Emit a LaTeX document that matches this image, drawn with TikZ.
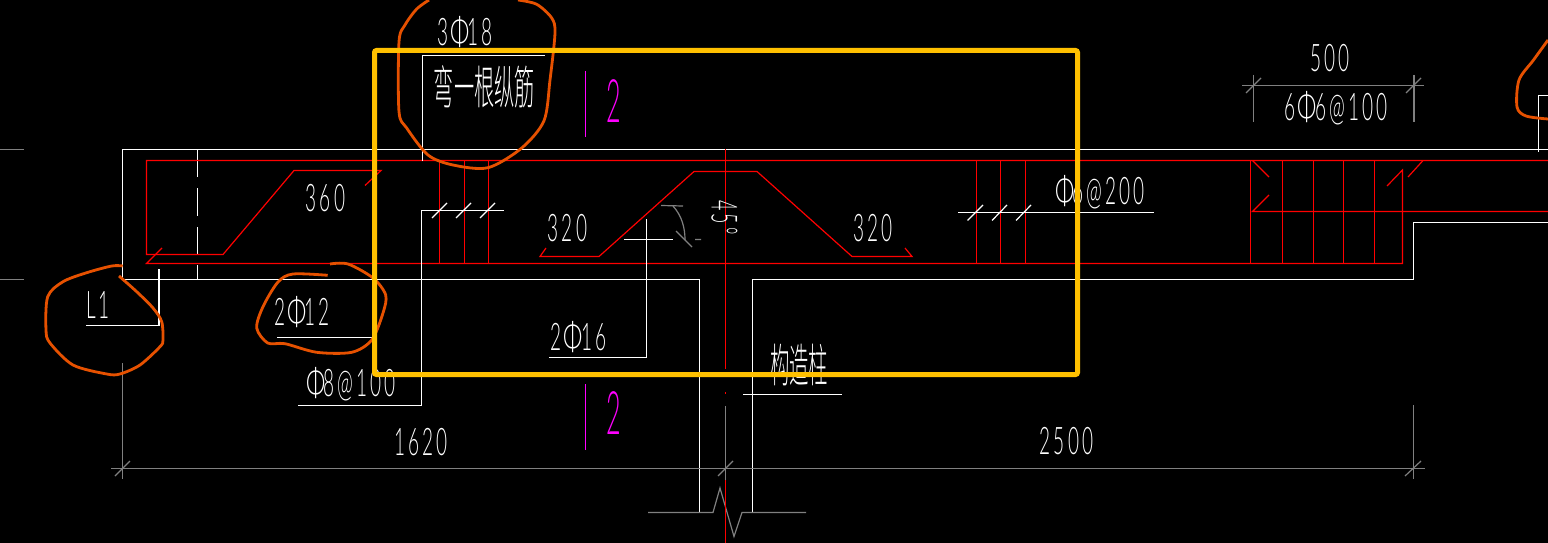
\documentclass[tikz,border=0pt]{standalone}
\usepackage{fontspec}
\usepackage{graphicx}
\setmainfont{Lato Hairline}
\newfontfamily\cadfont[LetterSpace=16]{Lato Light}
\newfontfamily\cadcjk{Noto Sans CJK SC Light}
\usetikzlibrary{calc}
\definecolor{cadgray}{HTML}{808080}
\definecolor{cadorange}{HTML}{E65100}
\definecolor{cadyellow}{HTML}{FFC000}
\definecolor{cadmagenta}{HTML}{FF00FF}
\newcommand{\cadphi}{\hspace{.1em}\scalebox{1.25}[1]{Φ}\hspace{-.08em}}
\tikzset{
 wline/.style={draw=white,line width=1.2pt},
 gline/.style={draw=cadgray,line width=1.2pt},
 rline/.style={draw=red,line width=1.2pt},
 mline/.style={draw=cadmagenta,line width=1.2pt},
 pen/.style={draw=cadorange,line width=2.8pt,line join=round},
 frameline/.style={draw=cadyellow,line width=5pt,rounded corners=2pt},
 lbl/.style={text=white,inner sep=0pt,font=\fontsize{38}{38}\cadfont,xscale=.5},
 cjk/.style={text=white,inner sep=0pt,font=\fontsize{46}{46}\cadcjk},
 seclbl/.style={text=cadmagenta,inner sep=0pt,font=\fontsize{60}{60}\cadfont,xscale=.42},
}
\begin{document}
\begin{tikzpicture}[x=1pt,y=-1pt]
\fill[black] (0,0) rectangle (1548,543);
\useasboundingbox (0,0) rectangle (1548,543);
% concrete outline
\draw[wline] (1548,149.5) -- (122.5,149.5) -- (122.5,279.5) -- (699.5,279.5) -- (699.5,512);
\draw[wline] (752.5,512) -- (752.5,279.5) -- (1413.5,279.5) -- (1413.5,222.5) -- (1548,222.5);
\draw[wline] (197.5,149) -- (197.5,177) (197.5,188) -- (197.5,216) (197.5,227) -- (197.5,254) (197.5,265) -- (197.5,279);
% gray ticks
\draw[gline] (0,149.5) -- (24,149.5) (0,279.5) -- (24,279.5);
\draw[gline] (122.5,363) -- (122.5,479) (1413.5,405) -- (1413.5,479);
\draw[gline] (111,468.5) -- (1425,468.5);
\draw[gline] (115,476) -- (130,461) (718,476) -- (733,461) (1405,476) -- (1421,461);
\draw[gline] (725.5,406) -- (725.5,480);
\draw[gline] (648,512.5) -- (713,512.5) -- (720,488) -- (734,536.5) -- (742,512.5) -- (806,512.5);
% dim 500
\draw[gline] (1242,85.5) -- (1424,85.5) (1253.5,75) -- (1253.5,122) (1414,75) -- (1414,122);
\draw[gline] (1246,93) -- (1261,78) (1406,93) -- (1421,78);
% red rebar
\draw[rline] (1548,160.5) -- (146.5,160.5) -- (146.5,254.5) -- (223,254.5) -- (294,170.5) -- (381,170.5) -- (365,185.5);
\draw[rline] (162,248) -- (146.5,263.5) -- (1402.5,263.5) -- (1402.5,170) -- (1387,186);
\draw[rline] (1423,160.5) -- (1408,177);
\draw[rline] (546,248) -- (540,256.5) -- (599,256.5) -- (694,171.5) -- (757,171.5) -- (852,256.5) -- (912,256.5) -- (905,248);
\draw[rline] (439.5,160) -- (439.5,263) (464.5,160) -- (464.5,263) (488.5,160) -- (488.5,263);
\draw[rline] (976.5,160) -- (976.5,263) (1000.5,160) -- (1000.5,263) (1025.5,160) -- (1025.5,263);
\draw[rline] (1250.5,160) -- (1250.5,263) (1282.5,160) -- (1282.5,263) (1313.5,160) -- (1313.5,263) (1343.5,160) -- (1343.5,263) (1374.5,160) -- (1374.5,263);
\draw[rline] (1269,177) -- (1252.5,160.5);
\draw[rline] (1269,195) -- (1252.5,211.5) -- (1548,211.5);
\draw[rline] (725.5,149) -- (725.5,369) (725.5,392) -- (725.5,394) (725.5,480) -- (725.5,543);
% leaders
\draw[wline] (159,269) -- (159,325.5) -- (86,325.5);
\draw[wline] (277,337.5) -- (372,337.5);
\draw[wline] (298,405.5) -- (421.5,405.5) -- (421.5,210.5) -- (504,210.5);
\draw[wline] (432,218) -- (447,203) (456,218) -- (471,203) (480,218) -- (495,203);
\draw[wline] (422.5,161) -- (422.5,55.5) -- (545,55.5);
\draw[wline] (549,357.5) -- (646.5,357.5) -- (646.5,219);
\draw[wline] (624,239.5) -- (673,239.5);
\draw[wline] (958,212.5) -- (1154,212.5);
\draw[wline] (967.5,220.5) -- (983,205) (992,220.5) -- (1007,205) (1016,220.5) -- (1031,205);
\draw[wline] (743,394.5) -- (842,394.5);
\draw[wline] (1538.5,151.5) -- (1538.5,95.5) -- (1548,95.5);
% angle
\draw[gline] (661,205.5) -- (683,206);
\draw[gline] (673,206) .. controls (682,216) and (685,228) .. (685,240);
\draw[gline] (676,231) -- (692,247) (695,239.5) -- (701,239.5);
% magenta
\draw[mline] (585.5,71) -- (585.5,137) (585.5,384) -- (585.5,450);
% labels
\node[lbl] (t3p18) at (465,32.5) {3\cadphi18};
\node[cjk,xscale=.44] (twan) at (484.5,86.5) {弯一根纵筋};
\node[seclbl] (tsec1) at (613.5,101) {2};
\node[seclbl] (tsec2) at (613.5,413.5) {2};
\node[lbl] (t360) at (325.5,198.5) {360};
\node[lbl] (t320a) at (567.5,228.5) {320};
\node[lbl] (t320b) at (873,228.5) {320};
\node[lbl,xscale=1.9,yscale=.47,rotate=-90] (t45) at (724.5,217.5) {45°};
\node[lbl] (tl1) at (98,305) {L1};
\node[lbl] (t2p12) at (302,312) {2\cadphi12};
\node[lbl] (tp8) at (350,384) {\cadphi8@100};
\node[lbl] (t2p16) at (578.5,337) {2\cadphi16};
\node[cjk,xscale=.42] (tgzz) at (799,365.5) {构造柱};
\node[lbl] (t1620) at (421,442) {1620};
\node[lbl] (t2500) at (1066.5,441.5) {2500};
\node[lbl] (t500) at (1330,58) {500};
\node[lbl] (t6p6) at (1336,108) {6\cadphi6@100};
\node[lbl] (tp6) at (1099,192) {\cadphi6@200};
% hand-drawn marks
\draw[pen] plot[smooth,tension=.5] coordinates {(122.7,266) (111.7,266) (86.7,272.7) (63,281.7) (47.7,296.7) (46,330) (50,343) (73,365) (106.7,374) (120,374) (140,365) (160,346.7) (163,340) (161.7,321.7) (153,308) (136.7,291.7) (119,276)};
\draw[pen] plot[smooth,tension=.5] coordinates {(327.7,275.3) (293,274) (278,282) (263,306.7) (256.7,328) (267.7,343) (285,343.7) (316.7,352.3) (351.7,352.3) (371.7,340) (383,313) (385.7,295) (373,278) (348,264) (330,264)};
\draw[pen] plot[smooth,tension=.5] coordinates {(429,0) (416.7,9) (405,25) (399,41.7) (399,111.7) (406.7,128) (428,155) (453,165) (488,167.7) (521.7,148) (544,120.7) (550,80) (555,33) (551.7,18) (536.7,4.3) (518,0)};
\draw[pen] plot[smooth,tension=.5] coordinates {(1548,40) (1533.5,60) (1519,80) (1517,107) (1526,116) (1548,119)};
% highlight frame
\draw[frameline] (374.5,50.5) rectangle (1077.5,374.5);
\end{tikzpicture}
\end{document}
